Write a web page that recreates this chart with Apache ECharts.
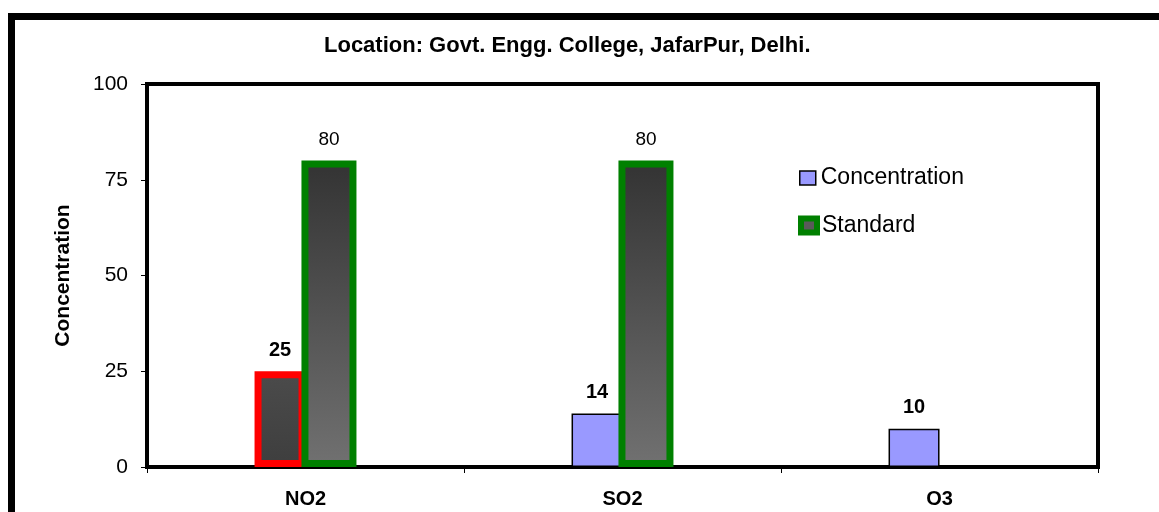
<!DOCTYPE html>
<html><head><meta charset="utf-8">
<script src="https://cdn.jsdelivr.net/npm/echarts@6/dist/echarts.min.js"></script>
<style>html,body{margin:0;padding:0;background:#fff}#c{width:1159px;height:512px}</style>
</head><body><div id="c"></div>
<script>
const categories = ['NO2', 'SO2', 'O3'];
const concentration = [25, 14, 10];
const standard = [80, 80, null];
const yTicks = [0, 25, 50, 75, 100];
const titleText = 'Location: Govt. Engg. College, JafarPur, Delhi.';
const yAxisName = 'Concentration';
const seriesNames = ['Concentration', 'Standard'];

const FONT = '"Liberation Sans", Arial, sans-serif';
const grad = (a, b) => new echarts.graphic.LinearGradient(0, 0, 0, 1, [{offset: 0, color: a}, {offset: 1, color: b}]);

const concStyle = {color: '#9999FF', borderColor: '#000', borderWidth: 1.5};
const concHighlight = {color: grad('#4b4b4b', '#3e3e3e'), borderColor: '#FF0000', borderWidth: 7};
const stdStyle = {color: grad('#333333', '#717171'), borderColor: '#008000', borderWidth: 7};

const concData = concentration.map((v, i) => i === 0 ? {value: v, itemStyle: concHighlight} : {value: v});

const legendText = {fontFamily: FONT, fontSize: 23, color: '#000'};

const chart = echarts.init(document.getElementById('c'), null, {renderer: 'canvas'});
chart.setOption({
  animation: false,
  backgroundColor: '#fff',
  title: {
    text: titleText,
    left: 319,
    top: 30,
    textStyle: {fontFamily: FONT, fontSize: 22, fontWeight: 'bold', color: '#000'}
  },
  graphic: [{
    type: 'rect', silent: true, z: 100,
    shape: {x: 11.5, y: 16.5, width: 1400, height: 700},
    style: {fill: 'none', stroke: '#000', lineWidth: 7}
  }],
  legend: [
    {
      orient: 'vertical', left: 799, top: 166.5, padding: 0,
      icon: 'rect', itemWidth: 16, itemHeight: 14,
      textStyle: legendText,
      data: [{name: seriesNames[0], itemStyle: {color: '#9999FF', borderColor: '#000', borderWidth: 1.5}}]
    },
    {
      orient: 'vertical', left: 798, top: 214, padding: 0,
      icon: 'rect', itemWidth: 16, itemHeight: 14,
      textStyle: legendText,
      data: [{name: seriesNames[1], itemStyle: {color: '#5a5a5a', borderColor: '#008000', borderWidth: 6}}]
    }
  ],
  grid: {
    left: 147, right: 61, top: 84, bottom: 45,
    show: true, borderColor: '#000', borderWidth: 4,
    containLabel: false, outerBoundsMode: 'none'
  },
  xAxis: {
    type: 'category',
    data: categories,
    axisLine: {show: true, lineStyle: {color: '#000', width: 4}},
    axisTick: {show: true, length: 6, lineStyle: {color: '#000', width: 1}},
    axisLabel: {fontFamily: FONT, fontSize: 20, fontWeight: 'bold', color: '#000', margin: 22}
  },
  yAxis: {
    type: 'value',
    min: yTicks[0], max: yTicks[yTicks.length - 1], interval: yTicks[1] - yTicks[0],
    name: yAxisName,
    nameLocation: 'middle',
    nameGap: 73,
    nameTextStyle: {fontFamily: FONT, fontSize: 21, fontWeight: 'bold', color: '#000'},
    axisLine: {show: true, lineStyle: {color: '#000', width: 4}},
    axisTick: {show: true, length: 6, lineStyle: {color: '#000', width: 1}},
    axisLabel: {fontFamily: FONT, fontSize: 21, color: '#000', margin: 19},
    splitLine: {show: false}
  },
  series: [
    {
      name: seriesNames[0], type: 'bar',
      data: concData,
      barWidth: 51, barGap: '-8%',
      itemStyle: concStyle,
      label: {show: true, position: 'top', distance: 11, fontFamily: FONT, fontSize: 20, fontWeight: 'bold', color: '#000'}
    },
    {
      name: seriesNames[1], type: 'bar',
      data: standard,
      barWidth: 55, barGap: '-8%',
      itemStyle: stdStyle,
      label: {show: true, position: 'top', distance: 11, fontFamily: FONT, fontSize: 19, color: '#000'}
    }
  ]
});
</script>
</body></html>
